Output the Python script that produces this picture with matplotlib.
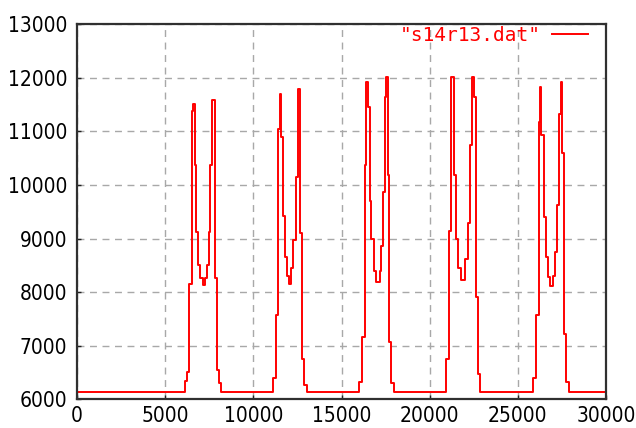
import matplotlib
matplotlib.use("Agg")
import matplotlib.pyplot as plt
import numpy as np

baseline = 6130

# (x start, level) step pairs for each doublet peak
pair1_x = [6136, 6230, 6360, 6510, 6570, 6680, 6740, 6880, 6990, 7120, 7250, 7350, 7460, 7570, 7650, 7800, 7950, 8070, 8160]
pair1_y = [6340, 6510, 8160, 11390, 11520, 10370, 9120, 8500, 8260, 8130, 8260, 8500, 9120, 10370, 11580, 8260, 6540, 6300, 6130]

pair2_x = [11100, 11290, 11380, 11530, 11590, 11670, 11800, 11890, 12010, 12160, 12270, 12430, 12540, 12670, 12770, 12900, 13030]
pair2_y = [6390, 7570, 11050, 11700, 10900, 9430, 8650, 8310, 8160, 8460, 8970, 10150, 11800, 9100, 6760, 6260, 6130]

pair3_x = [15980, 16170, 16330, 16400, 16480, 16590, 16690, 16820, 16970, 17160, 17260, 17350, 17440, 17540, 17610, 17690, 17800, 17950]
pair3_y = [6320, 7160, 10370, 11920, 11450, 9710, 9000, 8400, 8190, 8400, 8870, 9870, 11640, 12020, 10180, 7070, 6300, 6130]

pair4_x = [20910, 21100, 21230, 21360, 21480, 21630, 21760, 22030, 22160, 22290, 22400, 22520, 22630, 22750, 22880]
pair4_y = [6760, 9150, 12020, 10180, 9000, 8460, 8220, 8620, 9300, 10740, 12020, 11640, 7910, 6480, 6130]

pair5_x = [25870, 26020, 26180, 26270, 26320, 26460, 26570, 26700, 26820, 26990, 27100, 27220, 27330, 27440, 27500, 27610, 27730, 27880]
pair5_y = [6400, 7570, 11170, 11830, 10930, 9400, 8650, 8290, 8120, 8310, 8750, 9620, 11330, 11920, 10590, 7220, 6320, 6130]

x_ticks = [0, 5000, 10000, 15000, 20000, 25000, 30000]
y_ticks = [6000, 7000, 8000, 9000, 10000, 11000, 12000, 13000]
label = '"s14r13.dat"'

xs = [0]
ys = [baseline]
for px, py in [(pair1_x, pair1_y), (pair2_x, pair2_y), (pair3_x, pair3_y),
               (pair4_x, pair4_y), (pair5_x, pair5_y)]:
    xs += px
    ys += py
xs.append(30000)
ys.append(baseline)

plt.rcParams["font.family"] = ["DejaVu Sans"]
plt.rcParams["font.stretch"] = "condensed"

fig = plt.figure(figsize=(6.36, 4.28), dpi=100)
ax = fig.add_axes([0.1211, 0.0671, 0.9528 - 0.1211, 0.9432 - 0.0671])
ax.plot(xs, ys, drawstyle="steps-post", color="#ff0000", lw=1.4, label=label)

ax.set_xlim(0, 30000)
ax.set_ylim(6000, 13000)
ax.set_xticks(x_ticks)
ax.set_yticks(y_ticks)
ax.grid(True, color="#a8a8a8", linestyle=(0, (5, 4)), lw=1.0)
ax.tick_params(direction="in", length=3, width=1, color="#202020",
               labelsize=15, top=False, right=False)
ax.tick_params(axis="x", pad=5)
ax.tick_params(axis="y", pad=7)
for s in ax.spines.values():
    s.set_color("#303030")
    s.set_linewidth(1.6)

leg = ax.legend(loc="upper right", frameon=False,
                prop={"family": "DejaVu Sans Mono", "stretch": "normal", "size": 14},
                handlelength=1.85, borderaxespad=0.0, borderpad=0.0,
                handletextpad=0.6, markerfirst=False,
                bbox_to_anchor=(0.966, 0.996))
for t in leg.get_texts():
    t.set_color("#ff0000")

fig.savefig("out.png", dpi=100)
